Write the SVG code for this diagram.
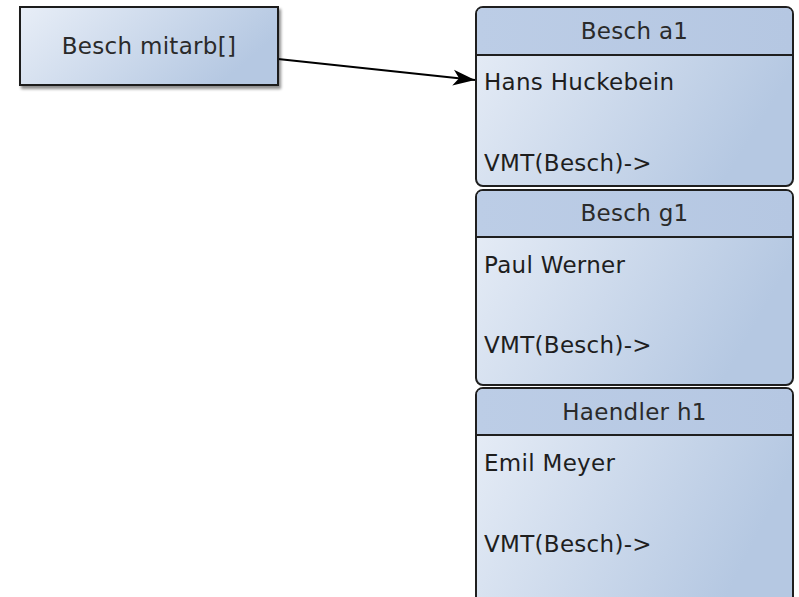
<svg xmlns="http://www.w3.org/2000/svg" width="799" height="597" viewBox="0 0 799 597">
<defs>
<linearGradient id="g" x1="0" y1="0" x2="1" y2="0.35">
<stop offset="0" stop-color="#e8eef7"/>
<stop offset="1" stop-color="#b5c8e2"/>
</linearGradient>
<linearGradient id="gh" x1="0" y1="0" x2="1" y2="0">
<stop offset="0" stop-color="#bccde6"/>
<stop offset="1" stop-color="#b5c7e2"/>
</linearGradient>
<filter id="sh" x="-10%" y="-10%" width="130%" height="140%">
<feGaussianBlur in="SourceAlpha" stdDeviation="1.5"/>
<feOffset dx="2" dy="3" result="b"/>
<feComponentTransfer><feFuncA type="linear" slope="0.45"/></feComponentTransfer>
<feMerge><feMergeNode/><feMergeNode in="SourceGraphic"/></feMerge>
</filter>
<marker id="arr" markerWidth="24" markerHeight="18" refX="22" refY="9" orient="auto" markerUnits="userSpaceOnUse">
<path d="M0,1 L22,9 L0,17 L6,9 Z" fill="#000"/>
</marker>
</defs>
<style>
text{font-family:"DejaVu Sans","Liberation Sans",sans-serif;font-size:23px;fill:#1e1e1e;letter-spacing:0.3px}
.h{text-anchor:middle;fill:#2a2a2a}
.box{fill:url(#g);stroke:#1f1f1f;stroke-width:2}
.hdr{fill:url(#gh)}
.sep{stroke:#1f1f1f;stroke-width:2}
</style>
<rect width="799" height="597" fill="#fff"/>
<g id="connectors">
<line x1="278" y1="59" x2="475" y2="80" stroke="#000" stroke-width="2" marker-end="url(#arr)"/>
</g>
<g id="mitarb">
<rect x="20" y="7" width="258" height="78" class="box" filter="url(#sh)"/>
<text x="149" y="54" class="h">Besch mitarb[]</text>
</g>
<g id="a1">
<rect x="476" y="7" width="317" height="179" rx="7" class="box"/>
<path d="M477,54 V14 Q477,8 483,8 H786 Q792,8 792,14 V54 Z" class="hdr"/>
<line x1="476" y1="55" x2="793" y2="55" class="sep"/>
<text x="634.5" y="39" class="h">Besch a1</text>
<text x="484" y="90">Hans Huckebein</text>
<text x="484" y="171">VMT(Besch)-&gt;</text>
</g>
<g id="g1">
<rect x="476" y="190" width="317" height="195" rx="7" class="box"/>
<path d="M477,236 V197 Q477,191 483,191 H786 Q792,191 792,197 V236 Z" class="hdr"/>
<line x1="476" y1="237" x2="793" y2="237" class="sep"/>
<text x="634.5" y="221" class="h">Besch g1</text>
<text x="484" y="273">Paul Werner</text>
<text x="484" y="353">VMT(Besch)-&gt;</text>
</g>
<g id="h1">
<rect x="476" y="388" width="317" height="220" rx="7" class="box"/>
<path d="M477,434 V395 Q477,389 483,389 H786 Q792,389 792,395 V434 Z" class="hdr"/>
<line x1="476" y1="435" x2="793" y2="435" class="sep"/>
<text x="634.5" y="420" class="h">Haendler h1</text>
<text x="484" y="471">Emil Meyer</text>
<text x="484" y="552">VMT(Besch)-&gt;</text>
</g>
</svg>
